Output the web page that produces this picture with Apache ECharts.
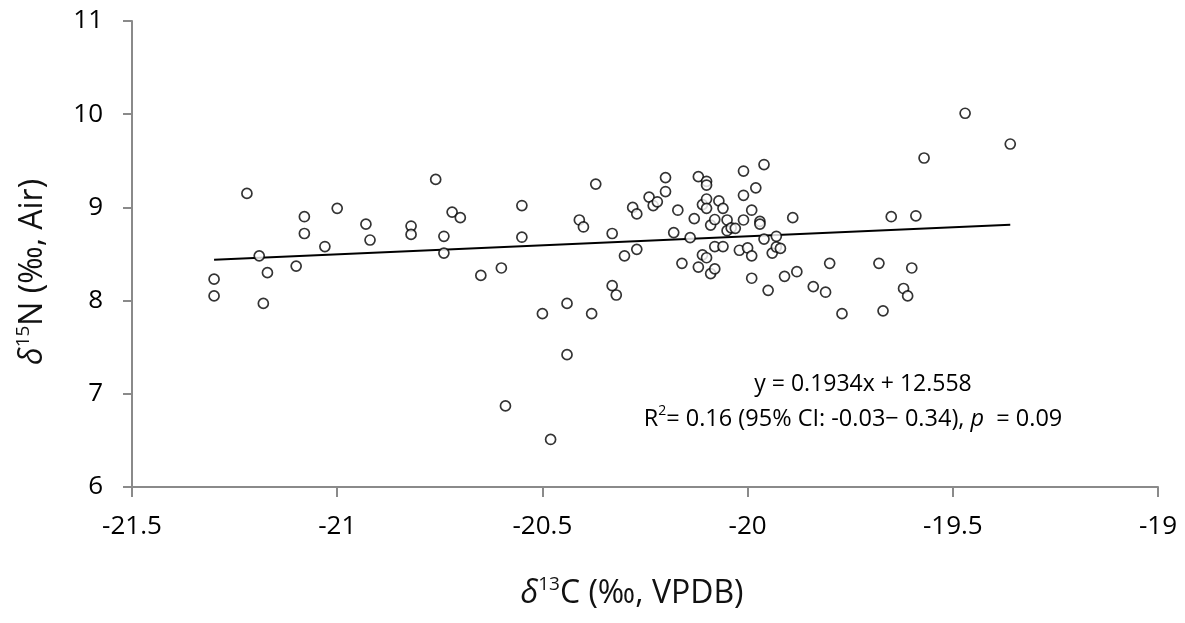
<!DOCTYPE html>
<html>
<head>
<meta charset="utf-8">
<title>d13C vs d15N</title>
<script src="https://cdn.jsdelivr.net/npm/echarts@6/dist/echarts.min.js"></script>
<style>
  html, body { margin: 0; padding: 0; background: #fff; }
  #container { width: 1185px; height: 623px; }
</style>
</head>
<body>
<div id="container"></div>
<script type="text/javascript">
      // δ13C values (x)
      var d13C = [
          -21.30, -21.30, -21.22, -21.19, -21.18, -21.17, -21.10, -21.08, -21.08, -21.03,
          -21.00, -20.93, -20.92, -20.82, -20.82, -20.76, -20.74, -20.74, -20.72, -20.70,
          -20.65, -20.60, -20.59, -20.55, -20.55, -20.50, -20.48, -20.44, -20.44, -20.41,
          -20.40, -20.38, -20.37, -20.33, -20.33, -20.32, -20.30, -20.28, -20.27, -20.27,
          -20.24, -20.23, -20.22, -20.20, -20.20, -20.18, -20.17, -20.16, -20.14, -20.13,
          -20.12, -20.12, -20.11, -20.11, -20.10, -20.10, -20.10, -20.10, -20.10, -20.09,
          -20.09, -20.08, -20.08, -20.08, -20.07, -20.06, -20.06, -20.05, -20.05, -20.04,
          -20.03, -20.02, -20.01, -20.01, -20.01, -20.00, -19.99, -19.99, -19.99, -19.98,
          -19.97, -19.97, -19.96, -19.96, -19.95, -19.94, -19.93, -19.93, -19.92, -19.91,
          -19.89, -19.88, -19.84, -19.81, -19.80, -19.77, -19.68, -19.67, -19.65, -19.62,
          -19.61, -19.60, -19.59, -19.57, -19.47, -19.36
      ];
      // δ15N values (y)
      var d15N = [
          8.23, 8.05, 9.15, 8.48, 7.97, 8.30, 8.37, 8.90, 8.72, 8.58,
          8.99, 8.82, 8.65, 8.80, 8.71, 9.30, 8.69, 8.51, 8.95, 8.89,
          8.27, 8.35, 6.87, 9.02, 8.68, 7.86, 6.51, 7.97, 7.42, 8.865,
          8.79, 7.86, 9.25, 8.72, 8.16, 8.06, 8.48, 9.00, 8.93, 8.55,
          9.11, 9.02, 9.06, 9.32, 9.17, 8.73, 8.97, 8.40, 8.675, 8.88,
          9.33, 8.36, 9.03, 8.49, 9.28, 9.24, 9.09, 8.99, 8.46, 8.81,
          8.29, 8.87, 8.58, 8.34, 9.07, 8.99, 8.58, 8.865, 8.75, 8.78,
          8.775, 8.54, 9.39, 9.13, 8.865, 8.565, 8.97, 8.48, 8.24, 9.21,
          8.85, 8.82, 9.46, 8.66, 8.11, 8.51, 8.69, 8.575, 8.56, 8.26,
          8.89, 8.31, 8.15, 8.09, 8.40, 7.86, 8.40, 7.89, 8.90, 8.13,
          8.05, 8.35, 8.91, 9.53, 10.01, 9.68
      ];
      // linear fit shown on the chart
      var slope = 0.1934;
      var intercept = 12.558;

      var points = [];
      for (var i = 0; i < d13C.length; i++) {
          points.push([d13C[i], d15N[i]]);
      }
      var xMin = Math.min.apply(null, d13C);
      var xMax = Math.max.apply(null, d13C);
      var trend = [
          [xMin, slope * xMin + intercept],
          [xMax, slope * xMax + intercept]
      ];

      var font = 'Open Sans';
      var axisGray = '#8a8a8a';
      var titleRich = {
          d: { fontFamily: font, fontSize: 32, fontStyle: 'italic', color: '#111', lineHeight: 38 },
          s: { fontFamily: font, fontSize: 19, color: '#111', verticalAlign: 'top', lineHeight: 38, padding: [0, 0, 13, 0] },
          n: { fontFamily: font, fontSize: 32, color: '#111', lineHeight: 38 }
      };

      var dom = document.getElementById("container");
      var myChart = echarts.init(dom);
      var option = {
          backgroundColor: '#fff',
          animation: false,
          grid: {
              left: 132,
              right: 27,
              top: 21,
              bottom: 136
          },
          xAxis: {
              type: 'value',
              min: -21.5,
              max: -19,
              interval: 0.5,
              splitLine: { show: false },
              axisLine: { onZero: false, lineStyle: { color: axisGray, width: 2 } },
              axisTick: { show: true, length: 10, lineStyle: { color: axisGray, width: 2 } },
              axisLabel: { color: '#000', fontFamily: font, fontSize: 26, margin: 27 },
              name: '{d|δ}{s|13}{n|C (‰, VPDB)}',
              nameLocation: 'middle',
              nameGap: 88,
              nameTextStyle: { padding: [0, 26, 0, 0], rich: titleRich }
          },
          yAxis: {
              type: 'value',
              min: 6,
              max: 11,
              interval: 1,
              splitLine: { show: false },
              axisLine: { show: true, onZero: false, lineStyle: { color: axisGray, width: 2 } },
              axisTick: { show: true, length: 9, lineStyle: { color: axisGray, width: 2 } },
              axisLabel: { color: '#000', fontFamily: font, fontSize: 26, margin: 29 },
              name: '{d|δ}{s|15}{n|N (‰, Air)}',
              nameLocation: 'middle',
              nameGap: 80,
              nameTextStyle: { padding: [0, 36, 0, 0], rich: titleRich }
          },
          series: [
              {
                  name: 'samples',
                  type: 'scatter',
                  data: points,
                  symbol: 'circle',
                  symbolSize: 10,
                  itemStyle: {
                      color: '#fff',
                      borderColor: '#000',
                      borderWidth: 1.7
                  },
                  z: 3
              },
              {
                  name: 'fit',
                  type: 'line',
                  data: trend,
                  symbol: 'none',
                  lineStyle: { color: '#000', width: 2 },
                  z: 2
              }
          ],
          graphic: [
              {
                  type: 'text',
                  x: 863,
                  y: 384,
                  style: {
                      text: 'y = 0.1934x + 12.558',
                      font: '23px "Open Sans"',
                      fill: '#000',
                      align: 'center',
                      verticalAlign: 'middle'
                  }
              },
              {
                  type: 'text',
                  x: 853,
                  y: 419,
                  style: {
                      text: '{t|R}{s|2}{t|= 0.16 (95% CI: -0.03− 0.34), }{i|p}{t|  = 0.09}',
                      align: 'center',
                      verticalAlign: 'middle',
                      rich: {
                          t: { fontFamily: font, fontSize: 23.5, color: '#000', lineHeight: 30 },
                          i: { fontFamily: font, fontSize: 23.5, fontStyle: 'italic', color: '#000', lineHeight: 30 },
                          s: { fontFamily: font, fontSize: 14, color: '#000', verticalAlign: 'top', lineHeight: 30, padding: [0, 0, 11, 0] }
                      }
                  }
              }
          ]
      };

      myChart.setOption(option, true);
</script>
</body>
</html>
